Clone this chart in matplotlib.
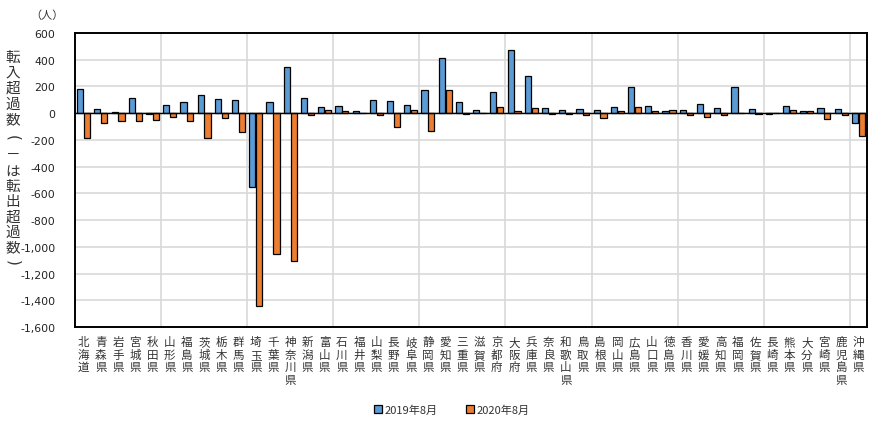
import matplotlib
matplotlib.use("Agg")
import matplotlib.pyplot as plt
import numpy as np

plt.rcParams['font.family'] = ['Noto Sans CJK JP', 'DejaVu Sans']

prefectures = ["北海道", "青森県", "岩手県", "宮城県", "秋田県", "山形県", "福島県", "茨城県", "栃木県", "群馬県",
               "埼玉県", "千葉県", "神奈川県", "新潟県", "富山県", "石川県", "福井県", "山梨県", "長野県", "岐阜県",
               "静岡県", "愛知県", "三重県", "滋賀県", "京都府", "大阪府", "兵庫県", "奈良県", "和歌山県", "鳥取県",
               "島根県", "岡山県", "広島県", "山口県", "徳島県", "香川県", "愛媛県", "高知県", "福岡県", "佐賀県",
               "長崎県", "熊本県", "大分県", "宮崎県", "鹿児島県", "沖縄県"]

values_2019 = [184, 35, 12, 112, -7, 60, 80, 134, 107, 95,
               -555, 87, 344, 112, 45, 55, 17, 95, 90, 60,
               172, 416, 82, 22, 157, 470, 276, 37, 27, 35,
               27, 45, 194, 57, 20, 27, 72, 40, 197, 35,
               -8, 57, 20, 40, 35, -70]

values_2020 = [-189, -70, -57, -62, -50, -30, -57, -189, -35, -139,
               -1442, -1053, -1103, -15, 27, 17, 5, -10, -102, 27,
               -134, 172, -7, 3, 45, 20, 37, -7, -7, -17,
               -35, 20, 45, 15, 25, -12, -25, -12, 5, -8,
               5, 25, 17, -40, -17, -174]

series_labels = ["2019年8月", "2020年8月"]
y_ticks = list(range(-1600, 601, 200))
ylabel_text = "転入超過数（－は転出超過数）"
unit_text = "（人）"

fig = plt.figure(figsize=(8.7, 4.31), dpi=100)
ax = fig.add_axes([75/870, 1-328/431, (867-75)/870, (328-34)/431])

n = len(prefectures)
x = np.arange(n)
w = 0.36
ax.bar(x - w/2 - 0.02, values_2019, width=w, color="#5B9BD5", edgecolor="black", linewidth=0.9,
       label=series_labels[0], zorder=3)
ax.bar(x + w/2 + 0.02, values_2020, width=w, color="#ED7D31", edgecolor="black", linewidth=0.9,
       label=series_labels[1], zorder=3)

ax.set_xlim(-0.5, n - 0.5)
ax.set_ylim(-1600, 600)
ax.set_yticks(y_ticks)
ax.set_yticklabels([f"{v:,}" for v in y_ticks], fontfamily="DejaVu Sans", fontsize=7.8, color="#222222")
ax.set_xticks(x)
ax.set_xticklabels(["\n".join(p) for p in prefectures], fontsize=8.3, color="#333333",
                   va="top", linespacing=0.95)
ax.tick_params(axis="both", length=0)
ax.tick_params(axis="y", pad=14)
ax.tick_params(axis="x", pad=6)

# grid
for v in y_ticks:
    ax.axhline(v, color="#D9D9D9", linewidth=1.2, zorder=1)
for k in range(5, n, 5):
    ax.axvline(k - 0.5, color="#D9D9D9", linewidth=1.2, zorder=1)
ax.axhline(0, color="black", linewidth=1.0, zorder=4)

for s in ax.spines.values():
    s.set_linewidth(1.4)
    s.set_color("black")
    s.set_zorder(5)

# y label written vertically, one character at a time
ypos = [58, 74, 89, 105, 120, 138, 155, 172, 187, 202, 218, 233, 248, 263]
for ch, yp in zip(ylabel_text, ypos):
    if ch in "（）":
        fig.text(13/870, 1-yp/431, "(" if ch == "（" else ")", ha="center", va="center",
                 fontsize=11, rotation=-90, family="DejaVu Sans", color="#333333")
    else:
        fig.text(13/870, 1-yp/431, ch, ha="center", va="center", fontsize=10.5, color="#333333")
fig.text(47/870, 1-16/431, unit_text, ha="center", va="center", fontsize=8, color="#333333")

leg = fig.legend(loc="center", bbox_to_anchor=(452/870, 1-411/431), ncol=2, frameon=False,
                 fontsize=8, handlelength=0.7, handleheight=0.7, handletextpad=0.2, columnspacing=2.6)
for t in leg.get_texts():
    t.set_color("#333333")

fig.savefig("out.png", dpi=100)
